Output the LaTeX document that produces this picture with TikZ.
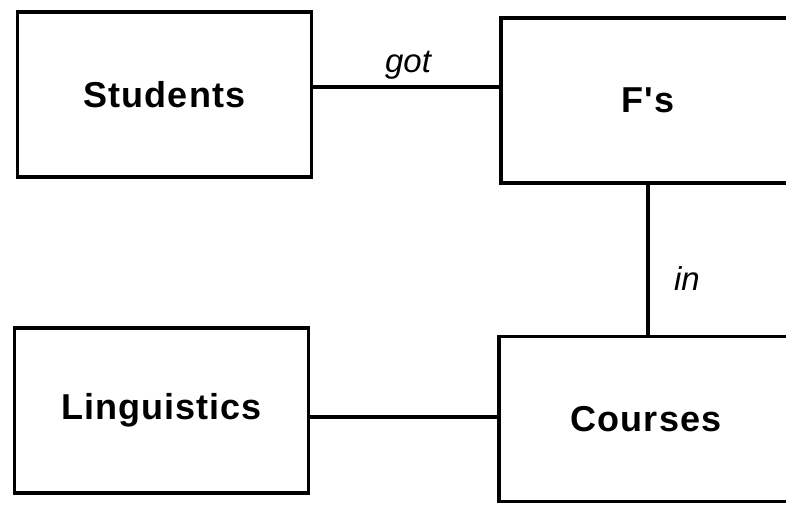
\documentclass[tikz,border=0pt]{standalone}
\usepackage{fontspec}
\setmainfont{Liberation Sans}
\newfontfamily\boxfont[LetterSpace=3]{Liberation Sans}
\begin{document}
\begin{tikzpicture}[x=1pt,y=-1pt,
  ent/.style={draw=black, line width=3.2pt, rectangle, minimum width=294pt, minimum height=165pt,
    inner sep=0pt, font=\boxfont\bfseries\fontsize{36}{40}\selectfont},
  rel/.style={draw=black, line width=3.2pt},
  lbl/.style={inner sep=0pt, font=\itshape\fontsize{33}{36}\selectfont}]
\useasboundingbox (0,0) rectangle (786,504);
\clip (0,0) rectangle (786,504);
\node[ent] (s) at (164.5,94.5) {Students};
\node[ent] (f) at (648,100.5) {F's};
\node[ent] (l) at (161.5,410.5) {Linguistics};
\node[ent] (c) at (646,419) {Courses};
\draw[rel] ([yshift=7.5pt]s.east) coordinate (g1) -- (g1 -| f.west);
\draw[rel] (f.south) -- (f.south |- c.north);
\draw[rel] ([yshift=-6.5pt]l.east) coordinate (l1) -- (l1 -| c.west);
\node[lbl, anchor=base] (got) at (408,72) {got};
\node[lbl, anchor=base] (in) at (687,290) {in};
\end{tikzpicture}
\end{document}
